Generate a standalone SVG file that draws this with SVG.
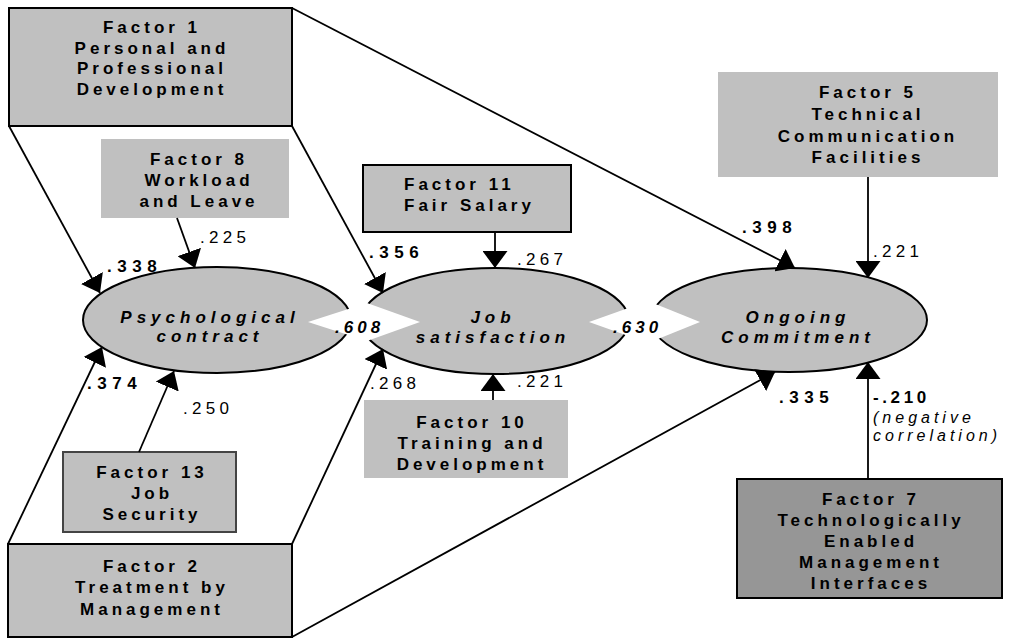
<svg xmlns="http://www.w3.org/2000/svg" width="1014" height="639" viewBox="0 0 1014 639">
<defs>
<marker id="ah" viewBox="0 0 17 25" refX="17" refY="12.5" markerWidth="17" markerHeight="25" orient="auto" markerUnits="userSpaceOnUse">
<path d="M0,0 L17,12.5 L0,25 Z" fill="#000"/>
</marker>
<style>
.box{fill:#c0c0c0;stroke:#000;stroke-width:2}
.boxg{fill:#c0c0c0;stroke:#444;stroke-width:2}
.boxn{fill:#c0c0c0}
.box7{fill:#969696;stroke:#000;stroke-width:2}
.ell{fill:#c0c0c0;stroke:#000;stroke-width:2}
.wedge{fill:#fff}
.c{fill:none;stroke:#000;stroke-width:1.8;marker-end:url(#ah)}
text{font-family:"Liberation Sans",Arial,sans-serif;fill:#000}
.n{font-weight:bold;font-size:17px;letter-spacing:4px;text-anchor:middle}
.e{font-weight:bold;font-style:italic;font-size:17px;letter-spacing:5px;text-anchor:middle}
.lb{font-weight:bold;font-size:17px;letter-spacing:5.5px}
.lr{font-size:17px;letter-spacing:4.3px}
.li{font-weight:bold;font-style:italic;font-size:17px;letter-spacing:4px}
.it{font-style:italic;font-size:16px;letter-spacing:4px}
</style>
</defs>

<g id="factor1">
<rect class="box" x="9" y="8" width="283" height="118"/>
<text class="n" x="152" y="33">Factor 1</text>
<text class="n" x="152" y="53.5">Personal and</text>
<text class="n" x="152" y="74">Professional</text>
<text class="n" x="152" y="94.5">Development</text>
</g>

<g id="factor8">
<rect class="boxn" x="101" y="139" width="188" height="79"/>
<text class="n" x="199" y="165">Factor 8</text>
<text class="n" x="199" y="186">Workload</text>
<text class="n" x="199" y="207">and Leave</text>
</g>

<g id="factor11">
<rect class="box" x="363" y="165" width="208" height="67"/>
<text class="n" x="404" y="190" style="text-anchor:start">Factor 11</text>
<text class="n" x="404" y="211" style="text-anchor:start">Fair Salary</text>
</g>

<g id="factor5">
<rect class="boxn" x="718" y="72" width="280" height="105"/>
<text class="n" x="868" y="98">Factor 5</text>
<text class="n" x="868" y="120">Technical</text>
<text class="n" x="868" y="142">Communication</text>
<text class="n" x="868" y="163">Facilities</text>
</g>

<g id="factor13">
<rect class="boxg" x="63" y="452" width="173" height="80"/>
<text class="n" x="152" y="478">Factor 13</text>
<text class="n" x="152" y="499">Job</text>
<text class="n" x="152" y="520">Security</text>
</g>

<g id="factor2">
<rect class="box" x="8" y="544" width="284" height="93"/>
<text class="n" x="152" y="572">Factor 2</text>
<text class="n" x="152" y="593">Treatment by</text>
<text class="n" x="152" y="615">Management</text>
</g>

<g id="factor10">
<rect class="boxn" x="364" y="400" width="204" height="78"/>
<text class="n" x="472" y="428">Factor 10</text>
<text class="n" x="472" y="449">Training and</text>
<text class="n" x="472" y="470">Development</text>
</g>

<g id="factor7">
<rect class="box7" x="737" y="479" width="265" height="119"/>
<text class="n" x="871" y="505">Factor 7</text>
<text class="n" x="871" y="526">Technologically</text>
<text class="n" x="871" y="547">Enabled</text>
<text class="n" x="871" y="568">Management</text>
<text class="n" x="871" y="589">Interfaces</text>
</g>

<g id="psych">
<ellipse class="ell" cx="217" cy="320" rx="134" ry="53"/>
</g>
<g id="job">
<ellipse class="ell" cx="495" cy="321" rx="134" ry="53"/>
</g>
<g id="ongoing">
<ellipse class="ell" cx="789" cy="320" rx="138" ry="52"/>
</g>

<g id="correlations">
<polygon class="wedge" points="308,322 367,303 420,322 367,341"/>
<polygon class="wedge" points="589,322 648,301 700,322 648,343"/>
</g>

<g id="ellipse-labels">
<text class="e" x="210" y="323">Psychological</text>
<text class="e" x="210" y="342">contract</text>
<text class="e" x="493" y="323">Job</text>
<text class="e" x="493" y="343">satisfaction</text>
<text class="e" x="798" y="323">Ongoing</text>
<text class="e" x="798" y="343">Commitment</text>
</g>

<g id="connectors">
<path class="c" d="M9,126 L100,293"/>
<path class="c" d="M292,126 L383,293"/>
<path class="c" d="M292,8 L795,268"/>
<path class="c" d="M177,218 L195,268"/>
<path class="c" d="M495,232 L495,268"/>
<path class="c" d="M868,177 L868,278"/>
<path class="c" d="M139,452 L174,371"/>
<path class="c" d="M8,544 L102,347"/>
<path class="c" d="M292,544 L383,349"/>
<path class="c" d="M292,637 L775,372"/>
<path class="c" d="M493,400 L493,374"/>
<path class="c" d="M868,479 L868,362"/>
</g>

<g id="labels">
<text class="lb" x="107" y="272">.338</text>
<text class="lr" x="200" y="243">.225</text>
<text class="lb" x="369" y="258">.356</text>
<text class="lr" x="517" y="265">.267</text>
<text class="li" x="335" y="333">.608</text>
<text class="li" x="613" y="333">.630</text>
<text class="lb" x="742" y="233">.398</text>
<text class="lr" x="873" y="257">.221</text>
<text class="lb" x="87" y="389">.374</text>
<text class="lr" x="183" y="414">.250</text>
<text class="lr" x="370" y="389">.268</text>
<text class="lr" x="517" y="387">.221</text>
<text class="lb" x="779" y="403">.335</text>
<text class="lb" x="873" y="403" style="letter-spacing:3.6px">-.210</text>
<text class="it" x="873" y="423">(negative</text>
<text class="it" x="873" y="441">correlation)</text>
</g>
</svg>
